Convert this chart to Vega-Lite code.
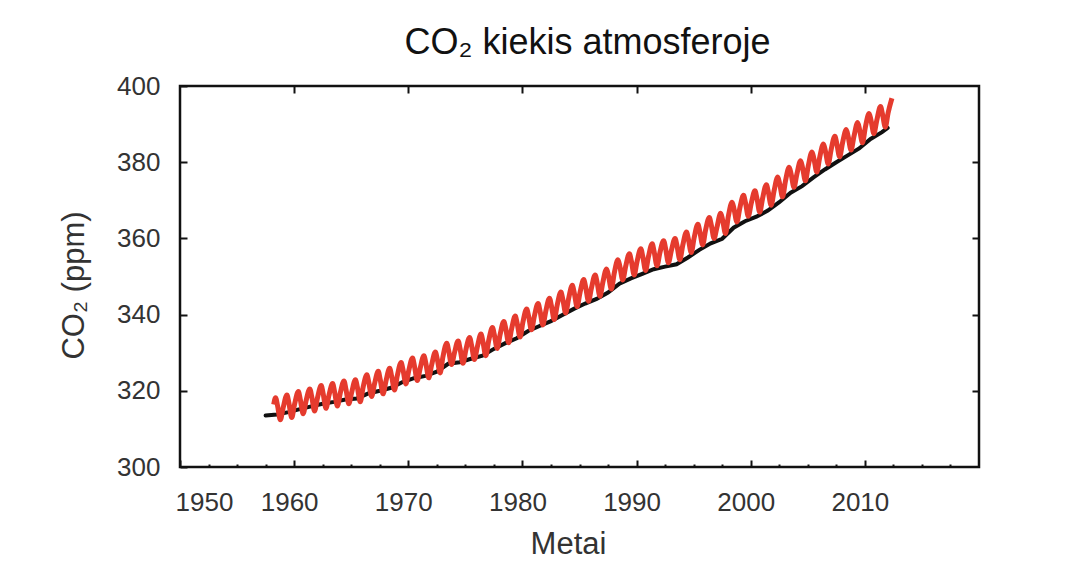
{
  "$schema": "https://vega.github.io/schema/vega-lite/v6.json",
  "width": 799,
  "height": 381,
  "autosize": {"type": "none"},
  "padding": {"left": 180, "top": 86, "right": 104, "bottom": 114},
  "background": "#ffffff",
  "title": {"text": "CO₂ kiekis atmosferoje", "font": "Liberation Sans", "fontSize": 36, "fontWeight": "normal", "color": "#111111", "offset": 11, "dx": 8},
  "config": {
    "view": {"stroke": "#111111", "strokeWidth": 2.5},
    "axis": {"domain": false, "grid": false, "tickColor": "#111111", "tickWidth": 2, "labelFont": "Liberation Sans", "labelFontSize": 26, "labelColor": "#333333", "titleFont": "Liberation Sans", "titleFontSize": 31, "titleFontWeight": "normal", "titleColor": "#333333"}
  },
  "datasets": {
    "black": [
      {"t": 1957.5, "v": 313.5}, {"t": 1958.5, "v": 313.8}, {"t": 1959.5, "v": 314.4}, {"t": 1960.5, "v": 315.2}, {"t": 1961.5, "v": 315.9},
      {"t": 1962.5, "v": 316.6}, {"t": 1963.5, "v": 317.1}, {"t": 1964.5, "v": 317.7}, {"t": 1965.5, "v": 318.0}, {"t": 1966.5, "v": 319.3},
      {"t": 1967.5, "v": 320.0}, {"t": 1968.5, "v": 320.8}, {"t": 1969.5, "v": 322.3}, {"t": 1970.5, "v": 323.3}, {"t": 1971.5, "v": 323.9},
      {"t": 1972.5, "v": 325.0}, {"t": 1973.5, "v": 327.1}, {"t": 1974.5, "v": 327.5}, {"t": 1975.5, "v": 328.4}, {"t": 1976.5, "v": 329.2},
      {"t": 1977.5, "v": 331.0}, {"t": 1978.5, "v": 332.5}, {"t": 1979.5, "v": 333.8}, {"t": 1980.5, "v": 335.7}, {"t": 1981.5, "v": 337.0},
      {"t": 1982.5, "v": 338.3}, {"t": 1983.5, "v": 339.9}, {"t": 1984.5, "v": 341.5}, {"t": 1985.5, "v": 342.9}, {"t": 1986.5, "v": 344.1},
      {"t": 1987.5, "v": 345.8}, {"t": 1988.5, "v": 348.1}, {"t": 1989.5, "v": 349.5}, {"t": 1990.5, "v": 350.7}, {"t": 1991.5, "v": 351.9},
      {"t": 1992.5, "v": 352.6}, {"t": 1993.5, "v": 353.2}, {"t": 1994.5, "v": 355.0}, {"t": 1995.5, "v": 357.0}, {"t": 1996.5, "v": 358.7},
      {"t": 1997.5, "v": 359.9}, {"t": 1998.5, "v": 362.8}, {"t": 1999.5, "v": 364.5}, {"t": 2000.5, "v": 365.7}, {"t": 2001.5, "v": 367.3},
      {"t": 2002.5, "v": 369.5}, {"t": 2003.5, "v": 372.0}, {"t": 2004.5, "v": 373.7}, {"t": 2005.5, "v": 376.0}, {"t": 2006.5, "v": 378.1},
      {"t": 2007.5, "v": 380.0}, {"t": 2008.5, "v": 381.8}, {"t": 2009.5, "v": 383.6}, {"t": 2010.5, "v": 386.1}, {"t": 2011.5, "v": 387.9},
      {"t": 2012.0, "v": 389.0}
    ],
    "red": [
      {"t": 1958.21, "v": 316.4}, {"t": 1958.37, "v": 318.2}, {"t": 1958.54, "v": 316.2}, {"t": 1958.79, "v": 312.4},
      {"t": 1959.04, "v": 315.6}, {"t": 1959.37, "v": 318.9}, {"t": 1959.54, "v": 316.8}, {"t": 1959.79, "v": 313.0},
      {"t": 1960.04, "v": 316.5}, {"t": 1960.37, "v": 319.8}, {"t": 1960.54, "v": 317.7}, {"t": 1960.79, "v": 314.0},
      {"t": 1961.04, "v": 317.3}, {"t": 1961.37, "v": 320.5}, {"t": 1961.54, "v": 318.5}, {"t": 1961.79, "v": 314.7},
      {"t": 1962.04, "v": 318.1}, {"t": 1962.37, "v": 321.4}, {"t": 1962.54, "v": 319.3}, {"t": 1962.79, "v": 315.4},
      {"t": 1963.04, "v": 318.7}, {"t": 1963.37, "v": 321.9}, {"t": 1963.54, "v": 319.8}, {"t": 1963.79, "v": 316.0},
      {"t": 1964.04, "v": 319.4}, {"t": 1964.37, "v": 322.6}, {"t": 1964.54, "v": 320.4}, {"t": 1964.79, "v": 316.6},
      {"t": 1965.04, "v": 319.6}, {"t": 1965.37, "v": 322.9}, {"t": 1965.54, "v": 320.9}, {"t": 1965.79, "v": 317.1},
      {"t": 1966.04, "v": 320.9}, {"t": 1966.37, "v": 324.2}, {"t": 1966.54, "v": 322.2}, {"t": 1966.79, "v": 318.5},
      {"t": 1967.04, "v": 321.8}, {"t": 1967.37, "v": 325.1}, {"t": 1967.54, "v": 323.0}, {"t": 1967.79, "v": 319.2},
      {"t": 1968.04, "v": 322.5}, {"t": 1968.37, "v": 325.9}, {"t": 1968.54, "v": 323.9}, {"t": 1968.79, "v": 320.2},
      {"t": 1969.04, "v": 324.0}, {"t": 1969.37, "v": 327.4}, {"t": 1969.54, "v": 325.5}, {"t": 1969.79, "v": 321.8},
      {"t": 1970.04, "v": 325.3}, {"t": 1970.37, "v": 328.6}, {"t": 1970.54, "v": 326.5}, {"t": 1970.79, "v": 322.7},
      {"t": 1971.04, "v": 325.9}, {"t": 1971.37, "v": 329.2}, {"t": 1971.54, "v": 327.2}, {"t": 1971.79, "v": 323.4},
      {"t": 1972.04, "v": 326.7}, {"t": 1972.37, "v": 330.2}, {"t": 1972.54, "v": 328.3}, {"t": 1972.79, "v": 324.7},
      {"t": 1973.04, "v": 329.0}, {"t": 1973.37, "v": 332.5}, {"t": 1973.54, "v": 330.5}, {"t": 1973.79, "v": 326.9},
      {"t": 1974.04, "v": 329.9}, {"t": 1974.37, "v": 333.1}, {"t": 1974.54, "v": 331.0}, {"t": 1974.79, "v": 327.2},
      {"t": 1975.04, "v": 330.7}, {"t": 1975.37, "v": 334.0}, {"t": 1975.54, "v": 332.0}, {"t": 1975.79, "v": 328.2},
      {"t": 1976.04, "v": 331.4}, {"t": 1976.37, "v": 334.9}, {"t": 1976.54, "v": 332.9}, {"t": 1976.79, "v": 329.2},
      {"t": 1977.04, "v": 333.1}, {"t": 1977.37, "v": 336.6}, {"t": 1977.54, "v": 334.7}, {"t": 1977.79, "v": 331.1},
      {"t": 1978.04, "v": 334.7}, {"t": 1978.37, "v": 338.2}, {"t": 1978.54, "v": 336.3}, {"t": 1978.79, "v": 332.6},
      {"t": 1979.04, "v": 336.1}, {"t": 1979.37, "v": 339.6}, {"t": 1979.54, "v": 337.7}, {"t": 1979.79, "v": 334.1},
      {"t": 1980.04, "v": 338.0}, {"t": 1980.37, "v": 341.5}, {"t": 1980.54, "v": 339.6}, {"t": 1980.79, "v": 336.0},
      {"t": 1981.04, "v": 339.5}, {"t": 1981.37, "v": 342.9}, {"t": 1981.54, "v": 341.0}, {"t": 1981.79, "v": 337.3},
      {"t": 1982.04, "v": 340.8}, {"t": 1982.37, "v": 344.3}, {"t": 1982.54, "v": 342.3}, {"t": 1982.79, "v": 338.7},
      {"t": 1983.04, "v": 342.4}, {"t": 1983.37, "v": 345.9}, {"t": 1983.54, "v": 344.0}, {"t": 1983.79, "v": 340.4},
      {"t": 1984.04, "v": 344.1}, {"t": 1984.37, "v": 347.7}, {"t": 1984.54, "v": 345.7}, {"t": 1984.79, "v": 342.1},
      {"t": 1985.04, "v": 345.7}, {"t": 1985.37, "v": 349.2}, {"t": 1985.54, "v": 347.2}, {"t": 1985.79, "v": 343.5},
      {"t": 1986.04, "v": 346.9}, {"t": 1986.37, "v": 350.4}, {"t": 1986.54, "v": 348.5}, {"t": 1986.79, "v": 344.8},
      {"t": 1987.04, "v": 348.4}, {"t": 1987.37, "v": 352.0}, {"t": 1987.54, "v": 350.2}, {"t": 1987.79, "v": 346.7},
      {"t": 1988.04, "v": 350.8}, {"t": 1988.37, "v": 354.4}, {"t": 1988.54, "v": 352.6}, {"t": 1988.79, "v": 349.1},
      {"t": 1989.04, "v": 352.6}, {"t": 1989.37, "v": 356.0}, {"t": 1989.54, "v": 354.1}, {"t": 1989.79, "v": 350.4},
      {"t": 1990.04, "v": 353.9}, {"t": 1990.37, "v": 357.3}, {"t": 1990.54, "v": 355.3}, {"t": 1990.79, "v": 351.6},
      {"t": 1991.04, "v": 355.2}, {"t": 1991.37, "v": 358.6}, {"t": 1991.54, "v": 356.5}, {"t": 1991.79, "v": 352.8},
      {"t": 1992.04, "v": 356.2}, {"t": 1992.37, "v": 359.4}, {"t": 1992.54, "v": 357.4}, {"t": 1992.79, "v": 353.6},
      {"t": 1993.04, "v": 356.7}, {"t": 1993.37, "v": 360.0}, {"t": 1993.54, "v": 358.1}, {"t": 1993.79, "v": 354.4},
      {"t": 1994.04, "v": 358.1}, {"t": 1994.37, "v": 361.7}, {"t": 1994.54, "v": 359.8}, {"t": 1994.79, "v": 356.3},
      {"t": 1995.04, "v": 360.1}, {"t": 1995.37, "v": 363.7}, {"t": 1995.54, "v": 361.8}, {"t": 1995.79, "v": 358.3},
      {"t": 1996.04, "v": 362.1}, {"t": 1996.37, "v": 365.5}, {"t": 1996.54, "v": 363.6}, {"t": 1996.79, "v": 360.0},
      {"t": 1997.04, "v": 362.9}, {"t": 1997.37, "v": 366.6}, {"t": 1997.54, "v": 364.8}, {"t": 1997.79, "v": 361.3},
      {"t": 1998.04, "v": 365.8}, {"t": 1998.37, "v": 369.5}, {"t": 1998.54, "v": 367.7}, {"t": 1998.79, "v": 364.3},
      {"t": 1999.04, "v": 367.9}, {"t": 1999.37, "v": 371.3}, {"t": 1999.54, "v": 369.4}, {"t": 1999.79, "v": 365.8},
      {"t": 2000.04, "v": 369.1}, {"t": 2000.37, "v": 372.5}, {"t": 2000.54, "v": 370.6}, {"t": 2000.79, "v": 366.9},
      {"t": 2001.04, "v": 370.5}, {"t": 2001.37, "v": 374.1}, {"t": 2001.54, "v": 372.2}, {"t": 2001.79, "v": 368.7},
      {"t": 2002.04, "v": 372.4}, {"t": 2002.37, "v": 376.1}, {"t": 2002.54, "v": 374.3}, {"t": 2002.79, "v": 370.9},
      {"t": 2003.04, "v": 375.0}, {"t": 2003.37, "v": 378.7}, {"t": 2003.54, "v": 376.9}, {"t": 2003.79, "v": 373.4},
      {"t": 2004.04, "v": 376.8}, {"t": 2004.37, "v": 380.4}, {"t": 2004.54, "v": 378.6}, {"t": 2004.79, "v": 375.1},
      {"t": 2005.04, "v": 379.0}, {"t": 2005.37, "v": 382.7}, {"t": 2005.54, "v": 380.9}, {"t": 2005.79, "v": 377.4},
      {"t": 2006.04, "v": 381.2}, {"t": 2006.37, "v": 384.8}, {"t": 2006.54, "v": 383.0}, {"t": 2006.79, "v": 379.5},
      {"t": 2007.04, "v": 383.2}, {"t": 2007.37, "v": 386.8}, {"t": 2007.54, "v": 384.9}, {"t": 2007.79, "v": 381.4},
      {"t": 2008.04, "v": 385.0}, {"t": 2008.37, "v": 388.6}, {"t": 2008.54, "v": 386.7}, {"t": 2008.79, "v": 383.2},
      {"t": 2009.04, "v": 386.7}, {"t": 2009.37, "v": 390.4}, {"t": 2009.54, "v": 388.5}, {"t": 2009.79, "v": 385.1},
      {"t": 2010.04, "v": 389.1}, {"t": 2010.37, "v": 392.8}, {"t": 2010.54, "v": 391.0}, {"t": 2010.79, "v": 387.5},
      {"t": 2011.04, "v": 390.9}, {"t": 2011.37, "v": 394.6}, {"t": 2011.54, "v": 392.7}, {"t": 2011.79, "v": 389.2},
      {"t": 2012.04, "v": 393.0}, {"t": 2012.37, "v": 396.8}
    ]
  },
  "layer": [
    {
      "data": {"name": "black"},
      "mark": {"type": "line", "color": "#111111", "strokeWidth": 4, "strokeCap": "round"},
      "encoding": {
        "x": {"field": "t", "type": "quantitative", "scale": {"domain": [1950, 2020], "nice": false, "zero": false},
              "axis": {"orient": "top", "values": [1960, 1970, 1980, 1990, 2000, 2010], "labels": false, "tickSize": -7, "title": null}},
        "y": {"field": "v", "type": "quantitative", "scale": {"domain": [300, 400], "nice": false, "zero": false},
              "axis": {"orient": "right", "values": [320, 340, 360, 380], "labels": false, "tickSize": -7, "title": null}}
      }
    },
    {
      "data": {"name": "red"},
      "mark": {"type": "line", "color": "#e53b2e", "strokeWidth": 5, "interpolate": "monotone"},
      "encoding": {
        "x": {"field": "t", "type": "quantitative",
              "axis": {"orient": "bottom", "values": [1950, 1952.5, 1955, 1957.5, 1960, 1962.5, 1965, 1967.5, 1970, 1972.5, 1975, 1977.5, 1980, 1982.5, 1985, 1987.5, 1990, 1992.5, 1995, 1997.5, 2000, 2002.5, 2005, 2007.5, 2010, 2012.5, 2015, 2017.5],
                       "labelExpr": "datum.value % 10 === 0 ? datum.label : ''",
                       "format": "d",
                       "tickSize": {"condition": {"test": "datum.value % 10 === 0", "value": -7}, "value": -3},
                       "labelPadding": 29, "labelOffset": -5, "title": "Metai", "titlePadding": 14, "titleX": 388}},
        "y": {"field": "v", "type": "quantitative",
              "axis": {"orient": "left", "values": [300, 320, 340, 360, 380, 400], "tickSize": -7, "labelPadding": 27, "title": "CO₂ (ppm)", "titlePadding": 26, "titleY": 199}}
      }
    }
  ],
  "resolve": {"axis": {"x": "independent", "y": "independent"}}
}
